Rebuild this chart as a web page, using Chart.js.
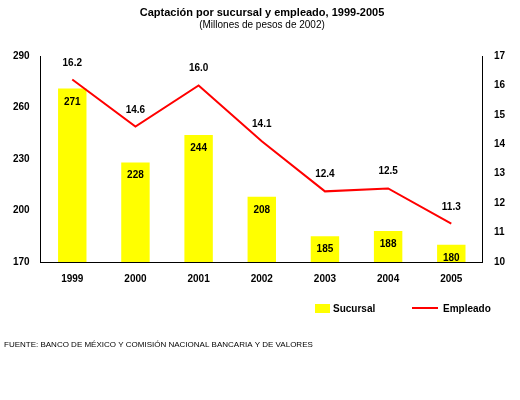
<!DOCTYPE html>
<html><head><meta charset="utf-8">
<script src="https://cdn.jsdelivr.net/npm/chart.js@4"></script>
<style>body{margin:0;background:#fff}#w{width:520px;height:400px}</style>
</head><body><div id="w"><canvas id="c"></canvas></div>
<script>
const years=['1999','2000','2001','2002','2003','2004','2005'];
const sucursal=[271,228,244,208,185,188,180];
const empleado=[16.2,14.6,16.0,14.1,12.4,12.5,11.3];
const leftTicks=[170,200,230,260,290];
const F='"Liberation Sans", Arial, sans-serif';
const deco={id:'deco',afterDraw(ch){
  const x=ch.ctx;x.save();x.fillStyle='#000';x.textAlign='center';
  x.font='bold 11px '+F;x.fillText('Captación por sucursal y empleado, 1999-2005',262,16);
  x.font='10px '+F;x.fillText('(Millones de pesos de 2002)',262,28);
  const b=ch.getDatasetMeta(0).data,l=ch.getDatasetMeta(1).data;
  x.font='bold 10px '+F;
  b.forEach((e,i)=>x.fillText(sucursal[i],e.x,e.y+16));
  l.forEach((e,i)=>x.fillText(empleado[i].toFixed(1),e.x,e.y-14));
  x.fillStyle='#ffff00';x.fillRect(315,304,15,9);
  x.strokeStyle='#ff0000';x.lineWidth=2;x.beginPath();x.moveTo(412,308);x.lineTo(438,308);x.stroke();
  x.fillStyle='#000';x.textAlign='left';x.font='bold 10px '+F;
  x.fillText('Sucursal',333,312);x.fillText('Empleado',443,312);
  x.font='8px '+F;
  x.fillText('FUENTE: BANCO DE MÉXICO Y COMISIÓN NACIONAL BANCARIA Y DE VALORES',4,347);
  x.restore();}};
new Chart(document.getElementById('c'),{
 data:{labels:years,datasets:[
  {type:'bar',data:sucursal,backgroundColor:'#ffff00',yAxisID:'y',barPercentage:0.45,categoryPercentage:1,order:2},
  {type:'line',data:empleado,borderColor:'#ff0000',borderWidth:2,pointRadius:0,yAxisID:'y1',tension:0,order:1}]},
 options:{responsive:true,maintainAspectRatio:false,animation:false,
  layout:{padding:{top:56,bottom:112,left:10,right:12}},
  plugins:{legend:{display:false},tooltip:{enabled:false}},
  scales:{
   x:{grid:{display:false},border:{color:'#000'},ticks:{color:'#000',font:{family:F,size:10,weight:'bold'}}},
   y:{min:170,max:290,afterBuildTicks:a=>{a.ticks=leftTicks.map(v=>({value:v}))},grid:{display:false},border:{color:'#000'},ticks:{color:'#000',font:{family:F,size:10,weight:'bold'}}},
   y1:{position:'right',min:10,max:17,ticks:{stepSize:1,color:'#000',font:{family:F,size:10,weight:'bold'}},grid:{display:false},border:{color:'#000'}}}},
 plugins:[deco]});
</script></body></html>
